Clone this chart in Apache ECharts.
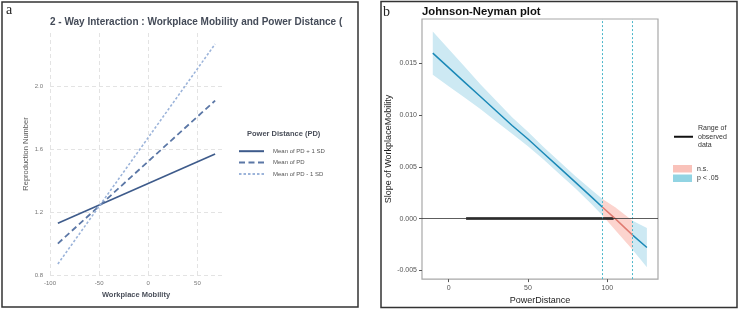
<!DOCTYPE html>
<html>
<head>
<meta charset="utf-8">
<script src="https://cdn.jsdelivr.net/npm/echarts@6/dist/echarts.min.js"></script>
<style>
  html, body { margin: 0; padding: 0; background: #fff; }
  #chart { width: 739px; height: 310px; }
</style>
</head>
<body>
<div id="chart"></div>
<script>
// panel a: simple slopes of workplace mobility at three PD levels
const mobilityEnds = [-92, 68];
const pdPlus1SD = [1.13, 1.57];
const pdMean = [1.00, 1.91];
const pdMinus1SD = [0.87, 2.27];

// panel b: Johnson-Neyman slope and its band
const powerDistance = [-10, 0, 10, 20, 30, 40, 50, 60, 70, 80, 90, 97, 105, 116, 125];
const slope = [0.0160, 0.0146, 0.0132, 0.0118, 0.0104, 0.0090, 0.0077, 0.0063, 0.0049, 0.0035, 0.0021, 0.0011, 0.0000, -0.0016, -0.0028];
const slopeUpper = [0.0181, 0.0164, 0.0147, 0.0130, 0.0114, 0.0098, 0.0084, 0.0069, 0.0055, 0.0041, 0.0028, 0.0019, 0.0011, -0.0002, -0.0009];
const slopeLower = [0.0139, 0.0128, 0.0117, 0.0106, 0.0094, 0.0082, 0.0070, 0.0057, 0.0043, 0.0029, 0.0014, 0.0003, -0.0011, -0.0030, -0.0047];
const jnBounds = [97, 116];
const observedRange = [11, 104];
const pdTicks = [0, 50, 100];
const slopeTicks = [-0.005, 0, 0.005, 0.010, 0.015];

const chart = echarts.init(document.getElementById('chart'));

const blueLine = '#1b89b7';
const redLine = '#e07b71';
const blueBand = '#cde9f3';
const pinkBand = '#fcd4ce';

function bandItem(params, api, fill) {
    const x0 = api.value(0), x1 = api.value(1);
    const upper = [], lower = [];
    powerDistance.forEach((x, i) => {
        if (x >= x0 && x <= x1) {
            upper.push(api.coord([x, slopeUpper[i]]));
            lower.push(api.coord([x, slopeLower[i]]));
        }
    });
    return {
        type: 'polygon',
        shape: { points: upper.concat(lower.reverse()) },
        style: { fill: fill }
    };
}

const pair = (xs, ys) => xs.map((x, i) => [x, ys[i]]);
const gridDash = { color: '#e3e3e3', type: [4, 3], width: 1 };

const option = {
    animation: false,
    textStyle: { fontFamily: 'Liberation Sans, Arial, sans-serif' },
    title: [
        { text: 'a', left: 1, top: -2, textStyle: { fontFamily: 'Liberation Serif, serif', fontSize: 14, fontWeight: 'normal', color: '#222' } },
        { text: '2 - Way Interaction : Workplace Mobility and Power Distance (', left: 45, top: 12,
          textStyle: { fontSize: 10, fontWeight: 'bold', color: '#444b58' } },
        { text: 'Power Distance (PD)', left: 242, top: 125, textStyle: { fontSize: 7.5, fontWeight: 'bold', color: '#4a4f5a' } },
        { text: 'b', left: 378, top: 0, textStyle: { fontFamily: 'Liberation Serif, serif', fontSize: 14, fontWeight: 'normal', color: '#222' } },
        { text: 'Johnson-Neyman plot', left: 417, top: 1, textStyle: { fontSize: 11.3, fontWeight: 'bold', color: '#111' } }
    ],
    graphic: [
        { type: 'rect', shape: { x: 2, y: 2, width: 356, height: 305 }, style: { fill: 'none', stroke: '#333', lineWidth: 1.5 } },
        { type: 'rect', shape: { x: 381, y: 1.5, width: 356, height: 306 }, style: { fill: 'none', stroke: '#333', lineWidth: 1.5 } }
    ],
    legend: [
        {
            data: ['Mean of PD + 1 SD', 'Mean of PD', 'Mean of PD - 1 SD'],
            orient: 'vertical', left: 233, top: 143, itemWidth: 25, itemHeight: 8, itemGap: 5,
            itemStyle: { opacity: 0 },
            textStyle: { fontSize: 6, color: '#555', padding: [0, 0, 0, 4] }
        },
        {
            data: ['Range of\nobserved\ndata'],
            orient: 'vertical', left: 668, top: 119, itemWidth: 19, itemHeight: 10,
            itemStyle: { opacity: 0 },
            textStyle: { fontSize: 7, color: '#333', lineHeight: 8.5 }
        },
        {
            data: [
                { name: 'n.s.', icon: 'rect', itemStyle: { color: '#f9c2ba' } },
                { name: 'p < .05', icon: 'rect', itemStyle: { color: '#92d4e3' } }
            ],
            orient: 'vertical', left: 668, top: 160, itemWidth: 19, itemHeight: 7.5, itemGap: 2,
            textStyle: { fontSize: 7, color: '#333' }
        }
    ],
    grid: [
        { left: 50, right: 517, top: 33, bottom: 35 },
        { left: 422, right: 81, top: 19, bottom: 26, show: true, borderColor: '#a8a8a8', borderWidth: 1.2 }
    ],
    xAxis: [
        {
            type: 'value', gridIndex: 0, min: -100, max: 75, interval: 50,
            name: 'Workplace Mobility', nameLocation: 'middle', nameGap: 14,
            nameTextStyle: { fontSize: 7.5, fontWeight: 'bold', color: '#4a4f5a' },
            axisLine: { show: false, onZero: false }, axisTick: { show: false },
            axisLabel: { fontSize: 6, color: '#777', margin: 5, showMaxLabel: false },
            splitLine: { show: true, lineStyle: gridDash, showMaxLine: false }
        },
        {
            type: 'value', gridIndex: 1, min: -16.8, max: 132,
            name: 'PowerDistance', nameLocation: 'middle', nameGap: 11,
            nameTextStyle: { fontSize: 9, color: '#222' },
            axisLine: { show: false, onZero: false },
            axisTick: { show: true, length: 3, lineStyle: { color: '#555' }, customValues: pdTicks },
            axisLabel: { fontSize: 7, color: '#555', margin: 5, customValues: pdTicks },
            splitLine: { show: false }
        }
    ],
    yAxis: [
        {
            type: 'value', gridIndex: 0, min: 0.8, max: 2.34, interval: 0.4,
            name: 'Reproduction Number', nameLocation: 'middle', nameGap: 20,
            nameTextStyle: { fontSize: 7.5, color: '#555' },
            axisLine: { show: false, onZero: false }, axisTick: { show: false },
            axisLabel: { fontSize: 6, color: '#777', margin: 7, showMaxLabel: false,
                         formatter: v => v.toFixed(1) },
            splitLine: { show: true, lineStyle: gridDash, showMaxLine: false }
        },
        {
            type: 'value', gridIndex: 1, min: -0.00585, max: 0.0193,
            name: 'Slope of WorkplaceMobility', nameLocation: 'middle', nameGap: 16,
            nameTextStyle: { fontSize: 9, color: '#222' },
            axisLine: { show: false, onZero: false },
            axisTick: { show: true, length: 3, lineStyle: { color: '#555' }, customValues: slopeTicks },
            axisLabel: { fontSize: 7, color: '#555', margin: 5, customValues: slopeTicks,
                         formatter: v => v.toFixed(3) },
            splitLine: { show: false }
        }
    ],
    visualMap: {
        type: 'piecewise', show: false, dimension: 0, seriesIndex: 5,
        pieces: [
            { lt: jnBounds[0], color: blueLine },
            { gte: jnBounds[0], lte: jnBounds[1], color: redLine },
            { gt: jnBounds[1], color: blueLine }
        ]
    },
    series: [
        {
            name: 'Mean of PD + 1 SD', type: 'line', xAxisIndex: 0, yAxisIndex: 0,
            data: pair(mobilityEnds, pdPlus1SD), symbol: 'none',
            lineStyle: { color: '#3e5b8b', width: 1.6, type: 'solid' }, itemStyle: { color: '#3e5b8b' }
        },
        {
            name: 'Mean of PD', type: 'line', xAxisIndex: 0, yAxisIndex: 0,
            data: pair(mobilityEnds, pdMean), symbol: 'none',
            lineStyle: { color: '#5b77a6', width: 1.8, type: [6, 3.5] }, itemStyle: { color: '#5b77a6' }
        },
        {
            name: 'Mean of PD - 1 SD', type: 'line', xAxisIndex: 0, yAxisIndex: 0,
            data: pair(mobilityEnds, pdMinus1SD), symbol: 'none',
            lineStyle: { color: '#9cb4da', width: 1.6, type: [2.5, 2] }, itemStyle: { color: '#9cb4da' }
        },
        {
            name: 'p < .05', type: 'custom', xAxisIndex: 1, yAxisIndex: 1,
            itemStyle: { color: '#92d4e3' },
            renderItem: (params, api) => bandItem(params, api, blueBand),
            data: [[powerDistance[0], jnBounds[0]], [jnBounds[1], powerDistance[powerDistance.length - 1]]],
            z: 1
        },
        {
            name: 'n.s.', type: 'custom', xAxisIndex: 1, yAxisIndex: 1,
            itemStyle: { color: '#f9c2ba' },
            renderItem: (params, api) => bandItem(params, api, pinkBand),
            data: [[jnBounds[0], jnBounds[1]]],
            z: 1
        },
        {
            name: 'slope', type: 'line', xAxisIndex: 1, yAxisIndex: 1,
            data: pair(powerDistance, slope), symbol: 'none',
            lineStyle: { width: 1.5 }, z: 4,
            markLine: {
                silent: true, symbol: 'none', label: { show: false },
                data: [
                    { xAxis: jnBounds[0], lineStyle: { color: '#4bb7cb', type: [2, 2], width: 1 } },
                    { xAxis: jnBounds[1], lineStyle: { color: '#4bb7cb', type: [2, 2], width: 1 } },
                    { yAxis: 0, lineStyle: { color: '#333', type: 'solid', width: 0.8 } }
                ]
            }
        },
        {
            name: 'Range of\nobserved\ndata', type: 'line', xAxisIndex: 1, yAxisIndex: 1,
            data: [[observedRange[0], 0], [observedRange[1], 0]], symbol: 'none',
            lineStyle: { color: '#111', width: 2.5 }, itemStyle: { color: '#111' }, z: 3
        }
    ]
};

chart.setOption(option);
</script>
</body>
</html>
